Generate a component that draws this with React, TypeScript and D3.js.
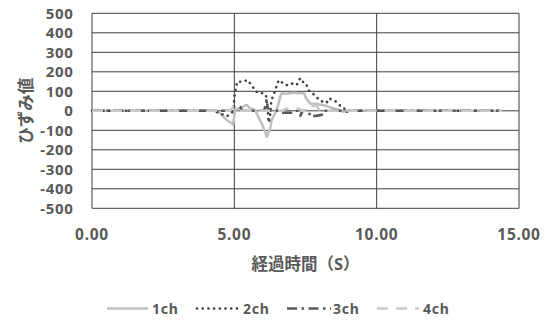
import React from "react";
import * as d3 from "d3";

// Strain readings per channel: elapsed time (s) and strain value
const ch1Time = [0, 4.30, 4.50, 4.73, 4.91, 4.96, 5.02, 5.20, 5.43, 5.55, 5.73, 5.84, 5.96, 6.08, 6.14, 6.20, 6.25, 6.31, 6.43, 6.54, 6.63, 6.67, 6.85, 7.05, 7.25, 7.45, 7.52, 7.66, 7.89, 8.12, 8.30, 8.59, 8.83, 9.00, 14.40];
const ch1Value = [0, 0, -13, -47, -64, -73, 4, 13, 30, 13, 4, -30, -64, -107, -133, -110, -98, -47, -13, 30, 81, 90, 88, 92, 90, 90, 64, 38, 35, 30, 21, 8, -5, 0, 0];

const ch2Time = [0, 4.30, 4.45, 4.60, 4.75, 4.85, 4.95, 5.02, 5.10, 5.29, 5.46, 5.60, 5.72, 5.84, 5.99, 6.11, 6.15, 6.18, 6.21, 6.25, 6.30, 6.38, 6.47, 6.54, 6.60, 6.70, 6.84, 7.01, 7.19, 7.31, 7.40, 7.52, 7.60, 7.72, 7.83, 7.98, 8.10, 8.24, 8.33, 8.45, 8.57, 8.69, 8.83, 8.95, 9.10, 14.40];
const ch2Value = [0, 0, -10, -20, -27, -15, -5, 90, 149, 149, 158, 132, 107, 90, 90, 81, 30, -5, -60, -30, 55, 81, 120, 149, 158, 141, 132, 141, 132, 167, 149, 141, 107, 90, 81, 55, 47, 41, 64, 55, 47, 30, 13, 4, 0, 0];

const ch3Time = [0, 4.85, 4.92, 5.20, 5.28, 6.05, 6.10, 6.13, 6.17, 6.22, 6.55, 6.62, 7.00, 7.08, 7.25, 7.32, 7.40, 7.62, 7.66, 8.07, 8.12, 8.75, 8.80, 9.05, 9.15, 14.40];
const ch3Value = [0, 0, 21, 21, 0, 0, 30, 60, 20, 0, 0, -10, -10, 0, 0, -25, 0, 0, -30, -21, 0, 0, -5, -5, 0, 0];

const ch4Time = [0, 4.85, 4.95, 5.10, 5.20, 6.70, 6.80, 7.30, 7.38, 7.65, 7.72, 7.90, 8.00, 14.40];
const ch4Value = [0, 0, 20, 20, 0, 0, 10, 10, 0, 0, 25, 25, 0, 0];

const seriesNames = ["1ch", "2ch", "3ch", "4ch"];
const xTicks = [0, 5, 10, 15];
const yTicks = [-500, -400, -300, -200, -100, 0, 100, 200, 300, 400, 500];

const yTitle = "ひずみ値";
const xTitle = "経過時間（S）";

type Style = { stroke: string; width: number; dash?: string; cap: "butt" | "round" };

const styles: Style[] = [
  { stroke: "#bfbfbf", width: 2.5, cap: "butt" },
  { stroke: "#404040", width: 2.6, dash: "0.1 5.6", cap: "round" },
  { stroke: "#595959", width: 2.6, dash: "10 4.5 2.5 4.5", cap: "butt" },
  { stroke: "#c9c9c9", width: 2.5, dash: "11 8", cap: "butt" },
];

const W = 547;
const H = 322;
const left = 92;
const right = 519;
const top = 13.3;
const bottom = 208.3;

const textColor = "#595959";
const gridColor = "#3f3f3f";
const font = "'Noto Sans', 'Noto Sans CJK JP', sans-serif";

export default function App() {
  const x = d3.scaleLinear().domain([0, 15]).range([left, right]);
  const y = d3.scaleLinear().domain([-500, 500]).range([bottom, top]);

  const series = [
    d3.zip(ch1Time, ch1Value),
    d3.zip(ch2Time, ch2Value),
    d3.zip(ch3Time, ch3Value),
    d3.zip(ch4Time, ch4Value),
  ] as [number, number][][];

  const line = d3
    .line<[number, number]>()
    .x((d) => x(d[0]))
    .y((d) => y(d[1]));

  const legendY = 313.5;
  const legendItems = [
    { x0: 107, x1: 148, tx: 152 },
    { x0: 197, x1: 241, tx: 243 },
    { x0: 287, x1: 331, tx: 333 },
    { x0: 377, x1: 419, tx: 423 },
  ];

  return (
    <svg
      width={W}
      height={H}
      style={{ position: "absolute", left: 0, top: 0, background: "#fff" }}
      fontFamily={font}
    >
      <rect width={W} height={H} fill="#fff" />
      {/* horizontal gridlines */}
      {yTicks.map((t) => (
        <line
          key={"h" + t}
          x1={left}
          x2={right}
          y1={y(t)}
          y2={y(t)}
          stroke={gridColor}
          strokeWidth={1}
        />
      ))}
      {/* vertical gridlines */}
      {xTicks.map((t) => (
        <line
          key={"v" + t}
          x1={x(t)}
          x2={x(t)}
          y1={top}
          y2={bottom}
          stroke={gridColor}
          strokeWidth={1}
        />
      ))}

      {/* data lines */}
      {series.map((s, i) => (
        <path
          key={seriesNames[i]}
          d={line(s) ?? ""}
          fill="none"
          stroke={styles[i].stroke}
          strokeWidth={styles[i].width}
          strokeDasharray={styles[i].dash}
          strokeLinecap={styles[i].cap}
          strokeLinejoin="round"
        />
      ))}

      {/* y tick labels */}
      {yTicks.map((t) => (
        <text
          key={"yl" + t}
          x={73.5}
          y={y(t)}
          dy="0.36em"
          textAnchor="end"
          fontSize={15}
          fontWeight="bold"
          letterSpacing={0.7}
          fill={textColor}
        >
          {t}
        </text>
      ))}
      {/* x tick labels */}
      {xTicks.map((t) => (
        <text
          key={"xl" + t}
          x={x(t)}
          y={239.5}
          textAnchor="middle"
          fontSize={15.5}
          fontWeight="bold"
          letterSpacing={0.7}
          fill={textColor}
        >
          {d3.format(".2f")(t)}
        </text>
      ))}

      {/* axis titles */}
      <text
        transform={`translate(32, ${(top + bottom) / 2}) rotate(-90)`}
        textAnchor="middle"
        fontSize={16.5}
        fontWeight="bold"
        fill={textColor}
      >
        {yTitle}
      </text>
      <text
        x={(left + right) / 2}
        y={270}
        textAnchor="middle"
        fontSize={16.5}
        fontWeight="bold"
        fill={textColor}
      >
        {xTitle}
      </text>

      {/* legend */}
      {legendItems.map((it, i) => (
        <g key={"lg" + i}>
          <line
            x1={it.x0}
            x2={it.x1}
            y1={legendY - 5}
            y2={legendY - 5}
            stroke={styles[i].stroke}
            strokeWidth={styles[i].width}
            strokeDasharray={styles[i].dash}
            strokeLinecap={styles[i].cap}
          />
          <text
            x={it.tx}
            y={legendY}
            fontSize={14}
            fontWeight="bold"
            letterSpacing={0.8}
            fill={textColor}
          >
            {seriesNames[i]}
          </text>
        </g>
      ))}
    </svg>
  );
}
